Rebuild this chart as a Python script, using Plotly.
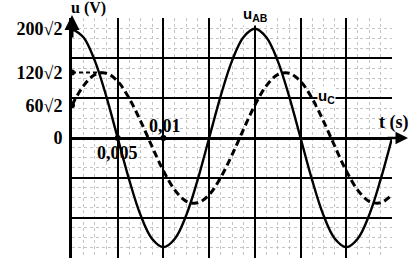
import plotly.graph_objects as go

# ---- data ----
t_s = [0, 0.00125, 0.0025, 0.00375, 0.005, 0.00625, 0.0075, 0.00875, 0.01,
       0.01125, 0.0125, 0.01375, 0.015, 0.01625, 0.0175, 0.01875, 0.02,
       0.02125, 0.0225, 0.02375, 0.025, 0.02625, 0.0275, 0.02875, 0.03,
       0.03125, 0.0325, 0.03375, 0.035]
u_AB = [283, 261, 200, 108, 0, -108, -200, -261, -283, -261, -200, -108, 0,
        108, 200, 261, 283, 261, 200, 108, 0, -108, -200, -261, -283, -261,
        -200, -108, 0]
u_C = [85, 135, 164, 168, 147, 103, 44, -22, -85, -135, -164, -168, -147,
       -103, -44, 22, 85, 135, 164, 168, 147, 103, 44, -22, -85, -135, -164,
       -168, -147]

y_tick_vals = [282.8, 169.7, 84.85, 0]
y_tick_text = ["<b>200√2</b>", "<b>120√2</b>", "<b>60√2</b>", "<b>0</b>"]
x_label_vals = [0.005, 0.01]
x_label_text = ["<b>0,005</b>", "<b>0,01</b>"]
uc_peak_t = 0.00333
uc_peak_u = 169.7

YR = [-311, 311]
XR = [0, 0.035]
serif = "Liberation Serif, Times New Roman, serif"
sans = "Liberation Sans, Arial, sans-serif"

fig = go.Figure()

# invisible trace for the grid axis
fig.add_trace(go.Scatter(x=[XR[0]], y=[0], yaxis="y2", mode="markers",
                         marker=dict(opacity=0), hoverinfo="skip", showlegend=False))

# dashed guide at 120√2
fig.add_trace(go.Scatter(x=[0, uc_peak_t], y=[uc_peak_u, uc_peak_u], mode="lines",
                         line=dict(color="black", width=2, dash="4px,3px"),
                         showlegend=False))

fig.add_trace(go.Scatter(x=t_s, y=u_C, mode="lines", line_shape="spline",
                         line=dict(color="black", width=3, dash="7px,4px"),
                         showlegend=False))
fig.add_trace(go.Scatter(x=t_s, y=u_AB, mode="lines", line_shape="spline",
                         line=dict(color="black", width=2.4),
                         showlegend=False))

# dots on the axes
fig.add_trace(go.Scatter(x=[0]*3 + x_label_vals, y=y_tick_vals[:3] + [0, 0],
                         mode="markers", marker=dict(color="black", size=6),
                         cliponaxis=False, showlegend=False))

ann = []
# x labels
ann.append(dict(x=x_label_vals[0], y=0, xref="x", yref="y", text=x_label_text[0],
                showarrow=False, yshift=-15, xshift=0,
                font=dict(family=serif, size=18, color="black")))
ann.append(dict(x=x_label_vals[1], y=0, xref="x", yref="y", text=x_label_text[1],
                showarrow=False, yshift=12, xshift=2,
                font=dict(family=serif, size=18, color="black")))
# axis titles
ann.append(dict(x=0, y=1, xref="x", yref="paper", text="<b>u (V)</b>", showarrow=False,
                xanchor="left", yanchor="bottom", xshift=-3, yshift=-1,
                font=dict(family=serif, size=16, color="black")))
ann.append(dict(x=1.0, y=0, xref="paper", yref="y", text="<b>t (s)</b>", showarrow=False,
                xanchor="center", yanchor="bottom", xshift=2, yshift=3,
                font=dict(family=serif, size=18, color="black")))
# curve labels
ann.append(dict(x=0.02, y=1, xref="x", yref="paper", text="<b>u<sub>AB</sub></b>",
                showarrow=False, yanchor="middle", xshift=1, yshift=4,
                bgcolor="white", borderpad=1,
                font=dict(family=sans, size=15, color="black")))
ann.append(dict(x=0.0275, y=103.4, xref="x", yref="y", text="<b>u<sub>C</sub></b>",
                showarrow=False, yanchor="middle", xshift=3, yshift=2,
                bgcolor="white", borderpad=0,
                font=dict(family=sans, size=15, color="black")))
# arrows
ann.append(dict(x=0, y=1.012, xref="x", yref="paper", ax=0, ay=24, text="",
                showarrow=True, arrowhead=2, arrowsize=1, arrowwidth=3, arrowcolor="black"))
ann.append(dict(x=1.05, y=0, xref="paper", yref="y", ax=-22, ay=0, text="",
                showarrow=True, arrowhead=2, arrowsize=1, arrowwidth=2.5, arrowcolor="black"))

fig.update_layout(
    width=415, height=261,
    margin=dict(l=72, r=23, t=18, b=3),
    paper_bgcolor="white", plot_bgcolor="white",
    showlegend=False,
    annotations=ann,
    xaxis=dict(range=XR, tick0=0, dtick=0.005, showgrid=True, gridcolor="black",
               gridwidth=1.6, zeroline=False, showticklabels=False, ticks="",
               showline=False,
               minor=dict(tick0=0, dtick=0.00125, showgrid=True, griddash="dot",
                          gridcolor="#c4c4c4", gridwidth=1, ticks="")),
    yaxis=dict(range=YR, tickmode="array", tickvals=y_tick_vals, ticktext=y_tick_text,
               showgrid=False, zeroline=True, zerolinecolor="black", zerolinewidth=2.5,
               showline=True, linecolor="black", linewidth=3, ticks="",
               tickfont=dict(family=serif, size=18, color="black"), ticklabelstandoff=3),
    yaxis2=dict(range=YR, overlaying="y", tick0=0, dtick=103.4, showgrid=True,
                gridcolor="black", gridwidth=1.6, zeroline=False, showticklabels=False,
                ticks="", showline=False,
                minor=dict(tick0=0, dtick=25.85, showgrid=True, griddash="dot",
                           gridcolor="#c4c4c4", gridwidth=1, ticks="")),
)

fig.write_html("out.html")
